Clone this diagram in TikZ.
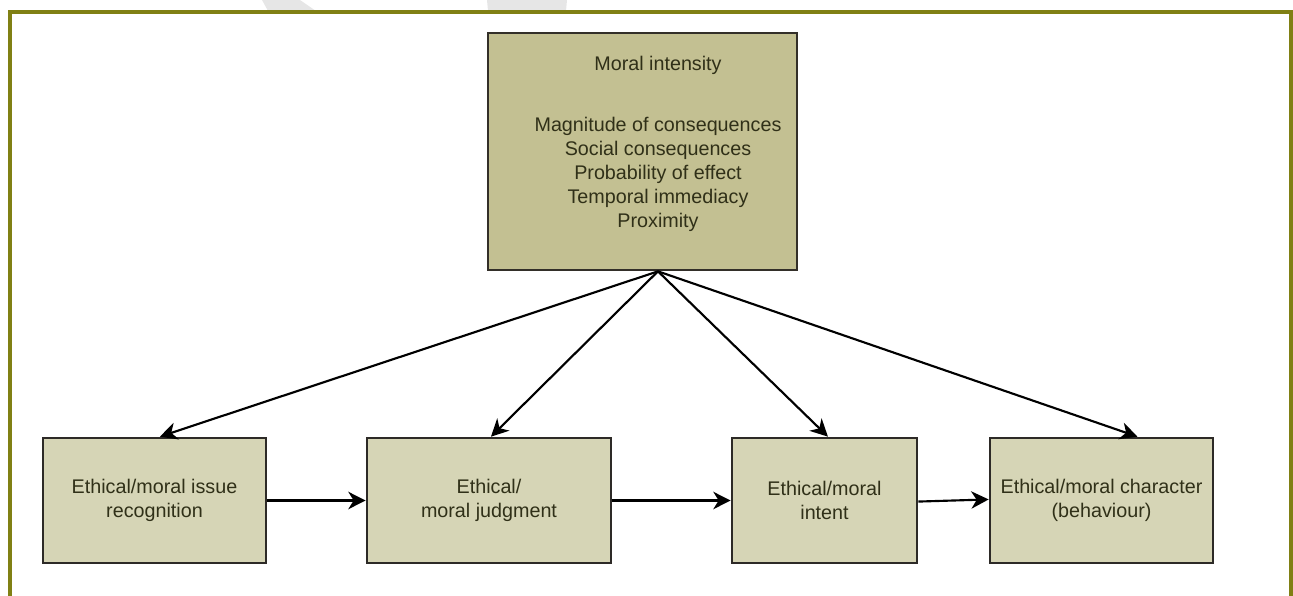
\documentclass[tikz,border=0pt]{standalone}
\usepackage{fontspec}
\setmainfont{Liberation Sans}
\usetikzlibrary{arrows.meta}
\definecolor{frameol}{RGB}{128,128,20}
\definecolor{topfill}{RGB}{195,192,146}
\definecolor{boxfill}{RGB}{214,213,182}
\definecolor{txtcol}{RGB}{48,48,24}
\definecolor{wmgray}{RGB}{230,230,230}
\tikzset{
  px/.style={x=0.75pt,y=-0.75pt},
  stagebox/.style={draw=black!90!olive,line width=2pt,fill=boxfill,minimum height=93.75pt,inner sep=0pt,
    text=txtcol,align=center,font=\fontsize{14.8}{18}\selectfont},
  topbox/.style={draw=black!85!olive,line width=2pt,fill=topfill,inner sep=0pt,minimum width=231.75pt,minimum height=177.75pt},
  toptext/.style={text=txtcol,align=center,font=\fontsize{14.8}{18}\selectfont,inner sep=0pt},
  link/.style={line width=1.6pt,-{Stealth[length=13pt,width=13pt,inset=4pt]}},
  framebox/.style={draw=frameol,line width=2.3pt}
}
\begin{document}
\begin{tikzpicture}[px]
\useasboundingbox (0,0) rectangle (1293,596);
% faint watermark shapes
\fill[wmgray] (262,0) -- (300,0) -- (316,11) -- (268,11) -- cycle;
\fill[wmgray] (487,0) -- (567,0) -- (566,11) -- (488,11) -- cycle;
% frame
\draw[framebox] (10,600) -- (10,12) -- (1291,12) -- (1291,600);
% nodes
\node[topbox] (mi) at (642.5,151.5) {};
\node[toptext] (mitext) at (658,143.5) {Moral intensity\\[27.75pt]Magnitude of consequences\\Social consequences\\Probability of effect\\Temporal immediacy\\Proximity};
\node[stagebox,minimum width=167.25pt] (b1) at (154.5,500.5) {Ethical/moral issue\\recognition};
\node[stagebox,minimum width=183pt] (b2) at (489,500.5) {Ethical/\\moral judgment};
\node[stagebox,minimum width=138.75pt] (b3) at (824.5,500.5) {Ethical/moral\\intent};
\node[stagebox,minimum width=167.25pt] (b4) at (1101.5,500.5) {Ethical/moral character\\(behaviour)};
\coordinate (apex) at ([xshift=11.6pt]mi.south);
% connectors
\draw[link] (apex) -- ([xshift=4pt]b1.north);
\draw[link] (apex) -- ([xshift=1.5pt]b2.north);
\draw[link] (apex) -- ([xshift=2.6pt]b3.north);
\draw[link] (apex) -- ([xshift=27pt]b4.north);
\draw[link] (b1.east) -- (b2.west);
\draw[link] (b2.east) -- (b3.west);
\draw[link] ([yshift=-0.8pt]b3.east) -- ([yshift=0.8pt]b4.west);
\end{tikzpicture}
\end{document}
